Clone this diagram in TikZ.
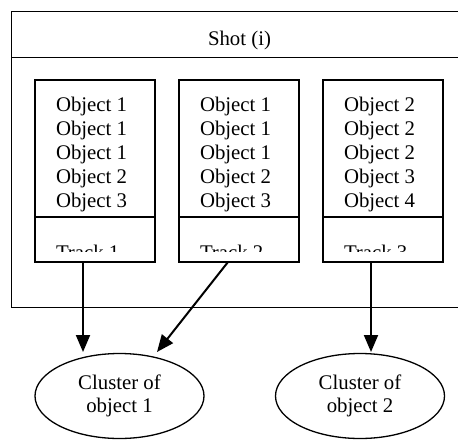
\documentclass[tikz,border=0pt]{standalone}
\usepackage{fontspec}
\setmainfont{Liberation Serif}
\usetikzlibrary{shapes.geometric,arrows.meta}
\begin{document}
\begin{tikzpicture}[x=1pt,y=-1pt,
  every node/.style={inner sep=0pt,outer sep=0pt},
  txt/.style={font=\fontsize{20.8}{24}\selectfont,anchor=base west},
  cbox/.style={draw,line width=1.3pt,minimum width=120pt,anchor=north west,rectangle},
  frame/.style={line width=1.3pt},
  arr/.style={line width=2pt,-{Triangle[length=17pt,width=14pt]}},
  clus/.style={draw,line width=1.3pt,ellipse,minimum width=169pt,minimum height=85pt,
    align=center,font=\fontsize{20.8}{23.5}\selectfont}]
\useasboundingbox (0,0) rectangle (458,440);
\fill[white] (0,0) rectangle (458,440);
% shot container (its right side lies outside the picture)
\coordinate (sr) at (458,11.5);
\coordinate (sl) at (11.5,307.5);
\coordinate (sb) at (458,307.5);
\draw[frame] (sr) -| (sl) -- (sb);
\draw[line width=1pt] (11.5,57) coordinate (dl) -- (458,57) coordinate (dr);
\node[font=\fontsize{20.8}{24}\selectfont,anchor=base] (title) at (239.5,45.5) {Shot (i)};
% columns
\foreach \i/\x/\a/\b/\c/\d/\e in {1/35/1/1/1/2/3, 2/179/1/1/1/2/3, 3/323/2/2/2/3/4}{
  \node[cbox,minimum height=137pt] (obj\i) at (\x,80) {};
  \node[cbox,minimum height=45pt] (trk\i) at (\x,217) {};
  \node[txt] (o\i a) at (\x+21,111) {Object \a};
  \node[txt] (o\i b) at (\x+21,135) {Object \b};
  \node[txt] (o\i c) at (\x+21,159) {Object \c};
  \node[txt] (o\i d) at (\x+21,183) {Object \d};
  \node[txt] (o\i e) at (\x+21,207) {Object \e};
  \begin{scope}
    \clip (\x,217) rectangle (\x+120,251.5);
    \node[txt] (tl\i) at (\x+21,259) {Track \i};
  \end{scope}
}
% clusters
\node[clus] (cl1) at (119.5,396) {Cluster of\\object 1};
\node[clus] (cl2) at (360,396) {Cluster of\\object 2};
% arrows
\coordinate (e1) at (83,352);
\coordinate (e2) at (157,352);
\coordinate (e3) at (371,352);
\draw[arr] ([xshift=-12pt]trk1.south) -- (e1);
\draw[arr] ([xshift=-11pt]trk2.south) -- (e2);
\draw[arr] ([xshift=-12pt]trk3.south) -- (e3);
\end{tikzpicture}
\end{document}
